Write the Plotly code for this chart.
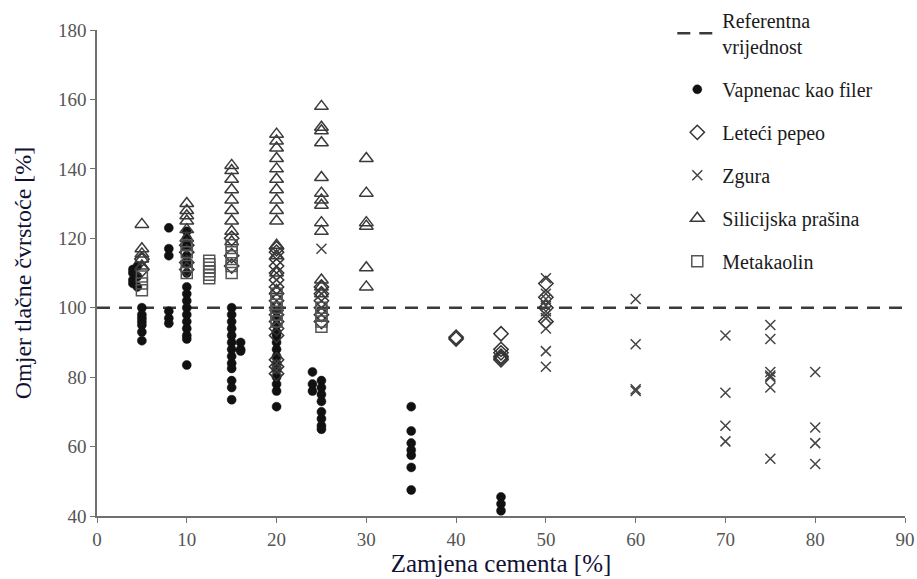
import plotly.graph_objects as go

# ---- data ----
vap_x = [4, 4, 4, 4, 4.5, 4.5, 4.5,
         5, 5, 5, 5, 5, 5, 5,
         8, 8, 8, 8, 8, 8,
         10, 10, 10, 10, 10, 10, 10, 10, 10, 10, 10, 10, 10, 10, 10, 10,
         15, 15, 15, 15, 15, 15, 15, 15, 15, 15, 15, 15, 15,
         16, 16, 16,
         20, 20, 20, 20, 20, 20, 20, 20, 20, 20, 20, 20, 20, 20,
         24, 24, 24,
         25, 25, 25, 25, 25, 25, 25, 25,
         35, 35, 35, 35, 35, 35, 35,
         45, 45, 45]
vap_y = [107, 108, 110, 111, 109, 112, 106,
         100, 98, 97, 96, 95, 93, 90.5,
         123, 117, 115, 99, 97, 95.5,
         122, 120, 118, 115, 113, 110, 106, 104, 102, 100, 98, 96, 94, 92, 91, 83.5,
         100, 98, 96, 94, 92, 90, 88, 86, 84, 82.5, 79, 77, 73.5,
         90, 88, 87.5,
         99, 97, 95, 93, 92, 90, 88, 86, 84, 82, 80, 78, 76, 71.5,
         81.5, 78, 76,
         79, 77, 75, 73, 70, 68, 66, 65,
         71.5, 64.5, 61, 59, 57.5, 54, 47.5,
         45.5, 43.5, 41.5]

pep_x = [5, 5,
         10, 10, 10, 10,
         15, 15, 15,
         20, 20, 20, 20, 20, 20, 20, 20, 20, 20, 20, 20, 20, 20, 20, 20, 20,
         25, 25, 25, 25, 25, 25,
         40, 40,
         45, 45, 45, 45, 45, 45,
         50, 50, 50, 50]
pep_y = [114, 111,
         118, 116, 113, 111,
         120, 115, 112,
         117, 116, 114, 112, 110, 108, 106, 104, 102, 100, 98, 96, 94, 92, 85, 83, 81,
         106, 104, 102, 100, 98, 96,
         91.5, 91,
         92.5, 88, 87, 86, 85.5, 85,
         107, 103, 100, 96]

zgu_x = [20, 20, 20, 20, 20,
         25, 25, 25,
         50, 50, 50, 50, 50, 50, 50, 50, 50,
         60, 60, 60, 60,
         70, 70, 70, 70,
         75, 75, 75, 75, 75, 75, 75,
         80, 80, 80, 80]
zgu_y = [116, 108, 96, 84, 82,
         117, 104, 100,
         108.5, 104, 102.5, 100.5, 99, 97, 94, 87.5, 83,
         102.5, 89.5, 76.5, 76,
         92, 75.5, 66, 61.5,
         95, 91, 81.5, 80.5, 80, 77, 56.5,
         81.5, 65.5, 61, 55]

sil_x = [5, 5, 5, 5, 5,
         10, 10, 10, 10, 10, 10,
         15, 15, 15, 15, 15, 15, 15, 15, 15,
         20, 20, 20, 20, 20, 20, 20, 20, 20, 20, 20, 20, 20, 20, 20,
         25, 25, 25, 25, 25, 25, 25, 25, 25, 25, 25, 25, 25,
         30, 30, 30, 30, 30, 30]
sil_y = [124, 117, 115.5, 114, 112,
         130, 128, 126.5, 125, 122.5, 120,
         141, 139.5, 137, 134, 131, 128, 125, 122, 119,
         150, 148, 146, 143, 140, 137, 134, 131, 128, 125, 118, 115, 110, 105, 100,
         158, 152, 151, 147.5, 137.5, 133, 131, 129.5, 124.5, 122, 108, 106, 104,
         143, 133, 124.5, 123.5, 111.5, 106]

met_x = [5, 5, 5,
         10, 10, 10, 10,
         12.5, 12.5, 12.5, 12.5, 12.5, 12.5,
         15, 15, 15, 15, 15,
         20, 20, 20, 20, 20,
         25, 25, 25, 25]
met_y = [109, 107, 105,
         118, 116, 112, 110,
         108.5, 109.5, 110.5, 111.5, 112.5, 113.5,
         118, 116, 114, 112, 110,
         104, 102, 100, 98, 96,
         100, 98, 96, 94.5]

ref_x = [0, 90]
ref_y = [100, 100]

x_ticks = [0, 10, 20, 30, 40, 50, 60, 70, 80, 90]
y_ticks = [40, 60, 80, 100, 120, 140, 160, 180]

SERIF = "Liberation Serif"

fig = go.Figure()

fig.add_trace(go.Scatter(
    x=ref_x, y=ref_y, mode="lines", name="Referentna<br>vrijednost",
    line=dict(color="#3a3a3a", width=2.5, dash="13px,9px"),
    legendgroup="a"))
fig.add_trace(go.Scatter(
    x=vap_x, y=vap_y, mode="markers", name="Vapnenac kao filer",
    marker=dict(symbol="circle", size=9, color="#111111",
                line=dict(color="#111111", width=0.5)),
    legendgroup="b"))
fig.add_trace(go.Scatter(
    x=pep_x, y=pep_y, mode="markers", name="Leteći pepeo",
    marker=dict(symbol="diamond-open", size=11, color="#333333",
                line=dict(color="#333333", width=1.5)),
    legendgroup="c"))
fig.add_trace(go.Scatter(
    x=zgu_x, y=zgu_y, mode="markers", name="Zgura",
    marker=dict(symbol="x-thin-open", size=10, color="#444444",
                line=dict(color="#444444", width=1.5)),
    legendgroup="d"))
fig.add_trace(go.Scatter(
    x=sil_x, y=sil_y, mode="markers", name="Silicijska prašina",
    marker=dict(symbol="triangle-up-open", size=12, color="#3a3a3a",
                line=dict(color="#3a3a3a", width=1.5)),
    legendgroup="e"))
fig.add_trace(go.Scatter(
    x=met_x, y=met_y, mode="markers", name="Metakaolin",
    marker=dict(symbol="square-open", size=11, color="#555555",
                line=dict(color="#555555", width=1.5)),
    legendgroup="f"))

fig.update_layout(
    width=917, height=579,
    margin=dict(l=97, r=12, t=30, b=63, autoexpand=False),
    paper_bgcolor="white", plot_bgcolor="white",
    font=dict(family=SERIF, color="#111111"),
    showlegend=True,
    legend=dict(
        x=0.712, y=1.06, xanchor="left", yanchor="top",
        bgcolor="rgba(0,0,0,0)", font=dict(family=SERIF, size=20, color="#1a1a1a"),
        tracegroupgap=14, itemwidth=40, traceorder="grouped"),
    xaxis=dict(
        range=[0, 90], tickmode="array", tickvals=x_ticks,
        ticks="outside", ticklen=5, tickcolor="#707070",
        showline=True, linecolor="#707070", linewidth=1.5,
        showgrid=False, zeroline=False,
        tickfont=dict(family=SERIF, size=19, color="#555555"),
        title=dict(text="Zamjena cementa [%]", standoff=4,
                   font=dict(family=SERIF, size=25, color="#111133"))),
    yaxis=dict(
        range=[40, 180], tickmode="array", tickvals=y_ticks,
        ticks="outside", ticklen=5, tickcolor="#707070",
        showline=True, linecolor="#707070", linewidth=1.5,
        showgrid=False, zeroline=False,
        tickfont=dict(family=SERIF, size=19, color="#555555"),
        title=dict(text="Omjer tlačne čvrstoće [%]", standoff=20,
                   font=dict(family=SERIF, size=24, color="#111133"))),
)

fig.write_html("out.html")
